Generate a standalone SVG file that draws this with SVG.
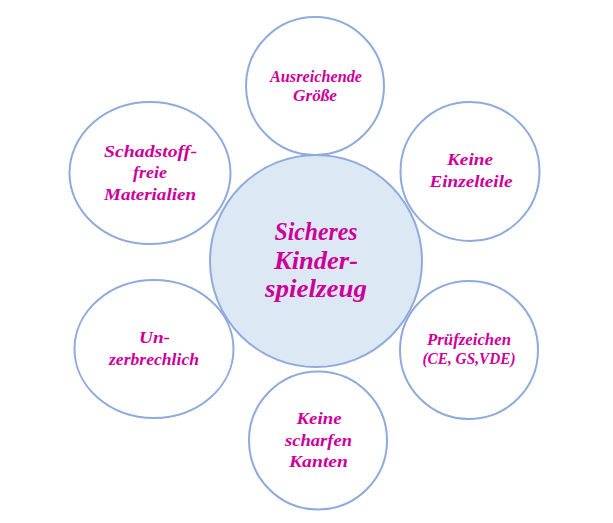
<svg xmlns="http://www.w3.org/2000/svg" width="613" height="523" viewBox="0 0 613 523">
<style>
.c{fill:#ffffff;stroke:#8faadc;stroke-width:2}
.m{fill:#dde8f5;stroke:#8faadc;stroke-width:2}
text{font-family:"Liberation Serif","DejaVu Serif",cursive;font-style:italic;font-weight:bold;fill:#cc0099;text-anchor:middle}
.s{font-size:16px}
.b{font-size:26px}
</style>
<rect width="613" height="523" fill="#ffffff"/>
<g id="center">
<circle class="m" cx="316" cy="261" r="106"/>
<text class="b" x="316" y="240" textLength="83" lengthAdjust="spacingAndGlyphs">Sicheres</text>
<text class="b" x="316" y="269" textLength="84" lengthAdjust="spacingAndGlyphs">Kinder-</text>
<text class="b" x="316" y="297" textLength="102" lengthAdjust="spacingAndGlyphs">spielzeug</text>
</g>
<g id="groesse">
<circle class="c" cx="315" cy="86" r="69"/>
<text class="s" x="316" y="82" textLength="92" lengthAdjust="spacingAndGlyphs">Ausreichende</text>
<text class="s" x="315" y="101" textLength="44" lengthAdjust="spacingAndGlyphs">Größe</text>
</g>
<g id="einzelteile">
<circle class="c" cx="470" cy="171.5" r="69.5"/>
<text class="s" x="470" y="165" textLength="46" lengthAdjust="spacingAndGlyphs">Keine</text>
<text class="s" x="471" y="187" textLength="83" lengthAdjust="spacingAndGlyphs">Einzelteile</text>
</g>
<g id="pruefzeichen">
<circle class="c" cx="469" cy="350" r="69"/>
<text class="s" x="469" y="345" textLength="84" lengthAdjust="spacingAndGlyphs">Prüfzeichen</text>
<text class="s" x="469" y="364" textLength="93" lengthAdjust="spacingAndGlyphs">(CE, GS,VDE)</text>
</g>
<g id="kanten">
<circle class="c" cx="318" cy="440.5" r="69"/>
<text class="s" x="319" y="424" textLength="45" lengthAdjust="spacingAndGlyphs">Keine</text>
<text class="s" x="318.5" y="446" textLength="67" lengthAdjust="spacingAndGlyphs">scharfen</text>
<text class="s" x="318.5" y="467" textLength="59" lengthAdjust="spacingAndGlyphs">Kanten</text>
</g>
<g id="unzerbrechlich">
<ellipse class="c" cx="154" cy="349" rx="79.5" ry="69"/>
<text class="s" x="154.5" y="343" textLength="31" lengthAdjust="spacingAndGlyphs">Un-</text>
<text class="s" x="154" y="365" textLength="90" lengthAdjust="spacingAndGlyphs">zerbrechlich</text>
</g>
<g id="schadstoff">
<ellipse class="c" cx="150" cy="173" rx="80.5" ry="71"/>
<text class="s" x="150.5" y="157" textLength="93" lengthAdjust="spacingAndGlyphs">Schadstoff-</text>
<text class="s" x="150" y="178" textLength="34" lengthAdjust="spacingAndGlyphs">freie</text>
<text class="s" x="150" y="200" textLength="92" lengthAdjust="spacingAndGlyphs">Materialien</text>
</g>
</svg>
